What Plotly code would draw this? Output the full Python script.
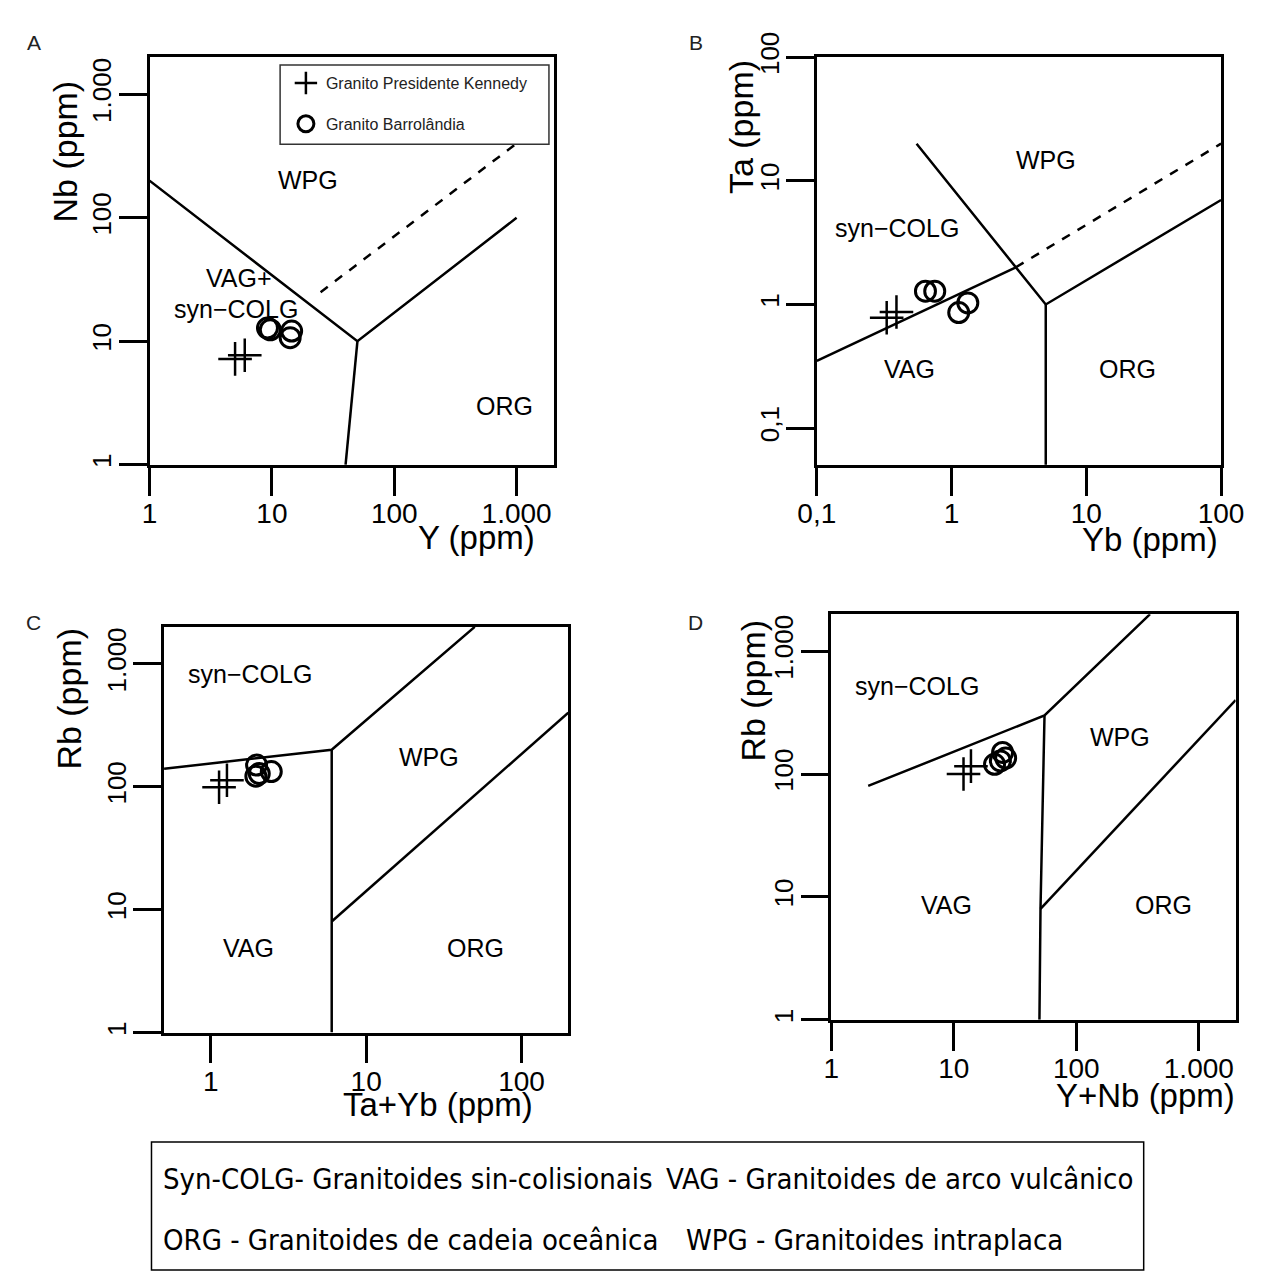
import math
import plotly.graph_objects as go

W, H = 1275, 1273

# ---------------- data ----------------
# Panel A : Nb vs Y
a_pk_y = [5.0, 6.0]
a_pk_nb = [7.2, 7.7]
a_ba_y = [9.2, 9.7, 14.5, 14.1]
a_ba_nb = [12.8, 12.4, 12.1, 10.7]
# Panel B : Ta vs Yb
b_pk_yb = [0.33, 0.39]
b_pk_ta = [0.78, 0.87]
b_ba_yb = [0.64, 0.75, 1.13, 1.32]
b_ba_ta = [1.28, 1.28, 0.86, 1.03]
# Panel C : Rb vs Ta+Yb
c_pk_tayb = [1.13, 1.27]
c_pk_rb = [99, 113]
c_ba_tayb = [1.97, 1.95, 2.05, 2.45]
c_ba_rb = [150, 122, 128, 133]
# Panel D : Rb vs Y+Nb
d_pk_ynb = [12.0, 13.8]
d_pk_rb = [100, 116]
d_ba_ynb = [21.5, 25.0, 26.5, 24.0]
d_ba_rb = [120, 150, 135, 128]

# Field boundaries (Pearce et al. 1984)
a_lines = [([1, 50, 1000], [200, 10, 100], "solid"),
           ([50, 40], [10, 1], "solid"),
           ([25, 1000], [25, 400], "dash")]
b_lines = [([0.1, 3], [0.35, 2], "solid"),
           ([3, 100], [2, 20], "dash"),
           ([0.55, 3, 5, 100], [20, 2, 1, 7], "solid"),
           ([5, 5], [1, 0.05], "solid")]
c_lines = [([0.5, 6, 50], [140, 200, 2000], "solid"),
           ([6, 6], [1, 200], "solid"),
           ([6, 200], [8, 400], "solid")]
d_lines = [([2, 55, 400], [80, 300, 2000], "solid"),
           ([55, 51, 50], [300, 8, 1], "solid"),
           ([51, 2000], [8, 400], "solid")]

tick_1_1000 = [1, 10, 100, 1000]
tick_1_1000_txt = ["1", "10", "100", "1.000"]
tick_01_100 = [0.1, 1, 10, 100]
tick_01_100_txt = ["0,1", "1", "10", "100"]
tick_1_100 = [1, 10, 100]
tick_1_100_txt = ["1", "10", "100"]

# ---------------- layout helpers ----------------
def px(x):
    return x / W


def py(y):
    return 1 - y / H


FONT = "Liberation Sans, Arial, sans-serif"
panels = {
    # name: (L, R, T, B) pixel box, x range, y range, ticks
    "A": ((135, 553, 32, 449), [0, 3.304], [0, 3.30], (tick_1_1000, tick_1_1000_txt), (tick_1_1000, tick_1_1000_txt)),
    "B": ((825, 1243, 32, 449), [-1, 2], [-1.297, 2], (tick_01_100, tick_01_100_txt), (tick_01_100, tick_01_100_txt)),
    "C": ((150, 568, 615, 1030), [math.log10(0.5), math.log10(200)], [0, 3.30], (tick_1_100, tick_1_100_txt), (tick_1_1000, tick_1_1000_txt)),
    "D": ((840, 1258, 602, 1017), [0, 3.3], [0, 3.3], (tick_1_1000, tick_1_1000_txt), (tick_1_1000, tick_1_1000_txt)),
}

fig = go.Figure()
layout = dict(width=W, height=H, autosize=False,
              margin=dict(l=0, r=0, t=0, b=0),
              paper_bgcolor="white", plot_bgcolor="white",
              font=dict(family=FONT, color="black"))

for i, (name, (box, xr, yr, xt, yt)) in enumerate(panels.items(), start=1):
    L, R, T, B = box
    sfx = "" if i == 1 else str(i)
    common = dict(type="log", showline=True, mirror=True, linecolor="black", linewidth=2.5,
                  ticks="outside", ticklen=28, tickwidth=2.5, tickcolor="black",
                  showgrid=False, zeroline=False)
    layout["xaxis" + sfx] = dict(common, domain=[px(L), px(R)], range=xr, anchor="y" + sfx,
                                 tickvals=xt[0], ticktext=xt[1], ticklabelstandoff=-6,
                                 tickfont=dict(size=28, family=FONT, color="black"))
    layout["yaxis" + sfx] = dict(common, domain=[py(B), py(T)], range=yr, anchor="x" + sfx,
                                 tickvals=yt[0], ticktext=yt[1], tickangle=-90, ticklabelstandoff=-3,
                                 tickfont=dict(size=26, family=FONT, color="black"))

fig.update_layout(**layout)

line_sets = {"": a_lines, "2": b_lines, "3": c_lines, "4": d_lines}
for sfx, lines in line_sets.items():
    for xs, ys, dash in lines:
        fig.add_trace(go.Scatter(x=xs, y=ys, mode="lines", xaxis="x" + sfx, yaxis="y" + sfx,
                                 line=dict(color="black", width=2.5, dash="dash" if dash == "dash" else "solid"),
                                 showlegend=False, hoverinfo="skip"))

point_sets = [
    ("", a_pk_y, a_pk_nb, a_ba_y, a_ba_nb, True),
    ("2", b_pk_yb, b_pk_ta, b_ba_yb, b_ba_ta, False),
    ("3", c_pk_tayb, c_pk_rb, c_ba_tayb, c_ba_rb, False),
    ("4", d_pk_ynb, d_pk_rb, d_ba_ynb, d_ba_rb, False),
]
for sfx, x1, y1, x2, y2, leg in point_sets:
    fig.add_trace(go.Scatter(x=x1, y=y1, mode="markers", xaxis="x" + sfx, yaxis="y" + sfx,
                             name="Granito Presidente Kennedy", legendgroup="pk", showlegend=leg,
                             marker=dict(symbol="cross-thin-open", size=24, color="black",
                                         line=dict(color="black", width=2.5))))
    fig.add_trace(go.Scatter(x=x2, y=y2, mode="markers", xaxis="x" + sfx, yaxis="y" + sfx,
                             name="Granito Barrolândia", legendgroup="ba", showlegend=leg,
                             marker=dict(symbol="circle-open", size=20, color="black",
                                         line=dict(color="black", width=3))))

fig.update_layout(legend=dict(x=px(276), y=py(41), xanchor="left", yanchor="top",
                              borderwidth=0, bgcolor="rgba(0,0,0,0)",
                              font=dict(size=16, family=FONT, color="#222"),
                              tracegroupgap=17, itemsizing="trace"))

ann = []


def text(x, y, s, size, angle=0, xanchor="center", color="black", family=FONT):
    ann.append(dict(x=px(x), y=py(y), xref="paper", yref="paper", text=s, showarrow=False,
                    textangle=angle, xanchor=xanchor, yanchor="middle",
                    font=dict(size=size, family=family, color=color)))


# panel letters
for letter, (x, y) in {"A": (15, 17), "B": (700, 17), "C": (15, 610), "D": (700, 610)}.items():
    text(x, y, letter, 21, color="#222")

# axis titles
text(48, 128, "Nb (ppm)", 34, angle=-90)
text(473, 523, "Y (ppm)", 33)
text(746, 103, "Ta (ppm)", 34, angle=-90)
text(1170, 525, "Yb (ppm)", 33)
text(52, 688, "Rb (ppm)", 34, angle=-90)
text(433, 1104, "Ta+Yb (ppm)", 33)
text(758, 680, "Rb (ppm)", 34, angle=-90)
text(1165, 1094, "Y+Nb (ppm)", 33)

# field labels
fields = [
    (299, 158, "WPG"), (227, 258, "VAG+"), (224, 290, "syn−COLG"), (502, 389, "ORG"),
    (1062, 137, "WPG"), (908, 207, "syn−COLG"), (921, 351, "VAG"), (1146, 351, "ORG"),
    (239, 663, "syn−COLG"), (424, 748, "WPG"), (237, 943, "VAG"), (472, 943, "ORG"),
    (929, 675, "syn−COLG"), (1139, 728, "WPG"), (959, 900, "VAG"), (1183, 900, "ORG"),
]
for x, y, s in fields:
    text(x, y, s, 25)

# bottom explanation box
NARROW = "Liberation Sans Narrow, Arial Narrow, DejaVu Sans Condensed, sans-serif"
text(147, 1180, "Syn-COLG- Granitoides sin-colisionais", 29, xanchor="left", family=NARROW)
text(667, 1180, "VAG - Granitoides de arco vulcânico", 29, xanchor="left", family=NARROW)
text(147, 1242, "ORG - Granitoides de cadeia oceânica", 29, xanchor="left", family=NARROW)
text(688, 1242, "WPG - Granitoides intraplaca", 29, xanchor="left", family=NARROW)

fig.update_layout(annotations=ann,
                  shapes=[dict(type="rect", xref="paper", yref="paper",
                               x0=px(137), x1=px(1163), y0=py(1273), y1=py(1142),
                               line=dict(color="black", width=1.5)),
                          dict(type="rect", xref="paper", yref="paper", layer="above",
                               x0=px(270), x1=px(548), y0=py(121), y1=py(40),
                               fillcolor="white", line=dict(color="#333", width=1.5))])

fig.write_html("out.html")
